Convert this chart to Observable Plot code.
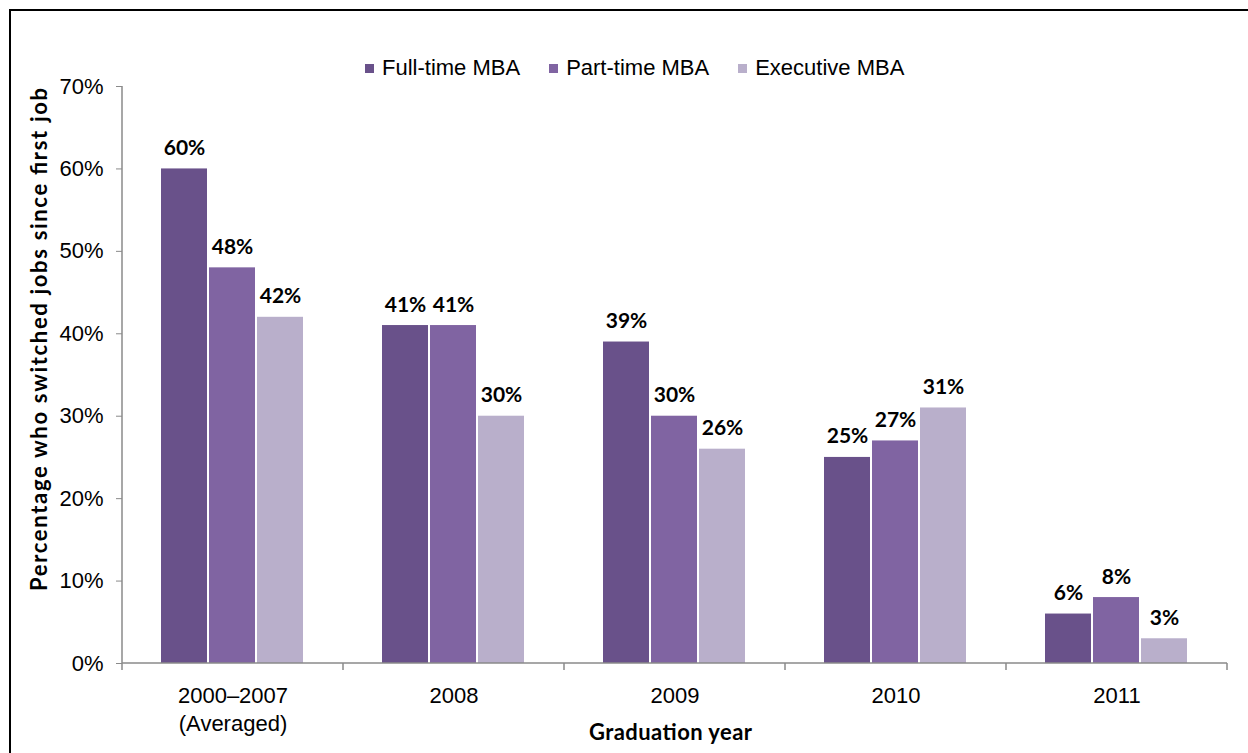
<!DOCTYPE html>
<html>
<head>
<meta charset="utf-8">
<script src="https://cdn.jsdelivr.net/npm/d3@7"></script>
<script src="https://cdn.jsdelivr.net/npm/@observablehq/plot@0.6"></script>
<style>
  html, body { margin: 0; padding: 0; background: #fff; }
  body { width: 1248px; height: 753px; overflow: hidden; position: relative; font-family: "Liberation Sans", Arial, sans-serif; }
  #frame { position: absolute; left: 9px; top: 9px; width: 1300px; height: 800px; border-left: 2px solid #000; border-top: 2px solid #000; pointer-events: none; }
  #legend { position: relative; height: 60px; }
  #legend .items { position: absolute; left: 365px; top: 55px; display: flex; align-items: center; font-size: 22px; line-height: 26px; color: #000; white-space: nowrap; z-index: 2; }
  #legend .item { display: flex; align-items: center; margin-right: 29px; }
  #legend .sw { width: 9px; height: 9px; margin-right: 8px; }
  #chart svg { display: block; }
</style>
</head>
<body>
<div id="legend"><div class="items"></div></div>
<div id="chart"></div>
<div id="frame"></div>
<script>
// ---- Data ----
const categories = ["2000–2007\n(Averaged)", "2008", "2009", "2010", "2011"];
const series = ["Full-time MBA", "Part-time MBA", "Executive MBA"];
const fullTime = [60, 41, 39, 25, 6];
const partTime = [48, 41, 30, 27, 8];
const executive = [42, 30, 26, 31, 3];
const yTicks = [0, 10, 20, 30, 40, 50, 60, 70];
const colors = ["#69518a", "#8064a2", "#b9afcb"];
const yTitle = "Percentage who switched jobs since first job";
const xTitle = "Graduation year";

const valuesBySeries = [fullTime, partTime, executive];
const rows = [];
categories.forEach((c, i) => {
  series.forEach((s, j) => rows.push({cat: c, series: s, value: valuesBySeries[j][i]}));
});

// ---- Legend ----
const items = d3.select("#legend .items");
series.forEach((s, j) => {
  const it = items.append("div").attr("class", "item");
  it.append("div").attr("class", "sw").style("background", colors[j]);
  it.append("span").text(s);
});

// ---- Chart ----
const labelFont = "Lato, 'Noto Sans', sans-serif";
const plot = Plot.plot({
  width: 1248,
  height: 693,
  marginTop: 26,
  marginBottom: 90,
  marginLeft: 121,
  marginRight: 21,
  style: {fontFamily: "'Liberation Sans', Arial, sans-serif", fontSize: "22px", color: "#000", background: "#fff"},
  fx: {domain: categories, padding: 0, label: null},
  x: {domain: series, paddingInner: 0.041, paddingOuter: 0.778, axis: null},
  y: {domain: [0, 70], label: null},
  color: {domain: series, range: colors},
  marks: [
    Plot.axisY({ticks: yTicks, tickFormat: d => d + "%", tickSize: 6, tickPadding: 13, stroke: "#8a8a8a", fill: "#000", label: null, fontSize: 22}),
    Plot.axisFx({anchor: "bottom", tickSize: 0, tickPadding: 20, lineHeight: 1.27, label: null, fontSize: 22, fill: "#000"}),
    Plot.barY(rows, {fx: "cat", x: "series", y: "value", fill: "series"}),
    Plot.text(rows, {fx: "cat", x: "series", y: "value", text: d => d.value + "%", lineAnchor: "bottom", dy: -14,
      fontFamily: labelFont, fontWeight: "bold", fontSize: 21, fill: "#000"})
  ]
});
document.getElementById("chart").appendChild(plot);

// ---- Axis lines, group separators and titles (from Plot's scales) ----
const fx = plot.scale("fx");
const y = plot.scale("y");
const svg = d3.select(plot);
const bw = fx.bandwidth;
const edges = categories.map(c => fx.apply(c));
edges.push(fx.apply(categories[categories.length - 1]) + bw);
const y0 = y.apply(0), yTop = y.apply(70);
const g = svg.append("g").attr("stroke", "#8a8a8a").attr("stroke-width", 1.5).attr("fill", "none");
g.append("line").attr("x1", edges[0]).attr("x2", edges[edges.length - 1]).attr("y1", y0).attr("y2", y0);
g.append("line").attr("x1", edges[0]).attr("x2", edges[0]).attr("y1", yTop).attr("y2", y0);
edges.forEach(e => g.append("line").attr("x1", e).attr("x2", e).attr("y1", y0).attr("y2", y0 + 7));

svg.append("text")
  .attr("transform", `translate(47,${(yTop + y0) / 2 - 35}) rotate(-90)`)
  .attr("text-anchor", "middle")
  .attr("textLength", 503).attr("lengthAdjust", "spacing")
  .style("font-family", labelFont).style("font-weight", "bold").style("font-size", "22px")
  .attr("fill", "#000")
  .text(yTitle);

svg.append("text")
  .attr("x", (edges[0] + edges[edges.length - 1]) / 2 - 4)
  .attr("y", y0 + 77)
  .attr("text-anchor", "middle")
  .attr("textLength", 163).attr("lengthAdjust", "spacing")
  .style("font-family", labelFont).style("font-weight", "bold").style("font-size", "22px")
  .attr("fill", "#000")
  .text(xTitle);
</script>
</body>
</html>
